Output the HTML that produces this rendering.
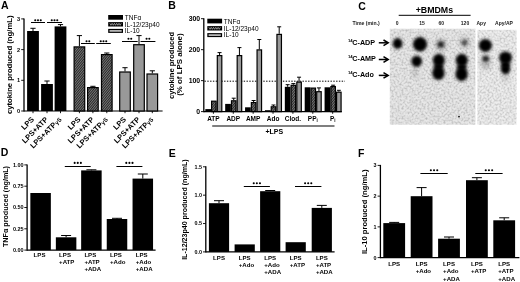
<!DOCTYPE html>
<html><head><meta charset="utf-8"><style>
html,body{margin:0;padding:0;background:#fff;width:520px;height:282px;overflow:hidden}
svg{display:block;font-family:"Liberation Sans", sans-serif;filter:grayscale(1)}
</style></head><body>
<svg width="520" height="282" viewBox="0 0 520 282">
<defs>
<pattern id="hatch" patternUnits="userSpaceOnUse" width="1.8" height="4" patternTransform="rotate(40)">
<rect width="1.8" height="4" fill="#262626"/>
<rect x="0" y="0" width="0.6" height="4" fill="#a0a0a0"/>
</pattern>
<pattern id="zig" patternUnits="userSpaceOnUse" width="2.2" height="4">
<rect width="2.2" height="4" fill="#111"/>
<path d="M0,1.2 L1.1,2.6 L2.2,1.2" stroke="#ddd" stroke-width="0.5" fill="none"/>
</pattern>
<linearGradient id="gelg" x1="0" y1="0" x2="0" y2="1">
<stop offset="0" stop-color="#e3e3e3"/><stop offset="1" stop-color="#e6e6e6"/>
</linearGradient>
<filter id="bl" x="-50%" y="-50%" width="200%" height="200%"><feGaussianBlur stdDeviation="1.35"/></filter>
<filter id="nz" x="0" y="0" width="100%" height="100%" color-interpolation-filters="sRGB">
<feTurbulence type="fractalNoise" baseFrequency="0.5" numOctaves="2" seed="7" result="t"/>
<feColorMatrix in="t" type="matrix" values="0 0 0 0 0  0 0 0 0 0  0 0 0 0 0  0.45 0 0 0 -0.18"/>
<feComposite in2="SourceGraphic" operator="in"/>
</filter>
<filter id="bl2" x="-80%" y="-80%" width="260%" height="260%"><feGaussianBlur stdDeviation="2"/></filter>
</defs>
<rect width="520" height="282" fill="#fff"/>
<text x="1" y="8.9" font-size="10.5" font-weight="bold" text-anchor="start" fill="#000" >A</text>
<text x="12.2" y="64.8" font-size="7.4" font-weight="bold" text-anchor="middle" fill="#000" transform="rotate(-90 12.2 64.8)" textLength="98.5" lengthAdjust="spacingAndGlyphs" >cytokine produced (ng/mL)</text>
<line x1="24.0" y1="18.4" x2="24.0" y2="111.6" stroke="#000" stroke-width="1.3" />
<line x1="21.2" y1="111.0" x2="24.0" y2="111.0" stroke="#000" stroke-width="0.9" />
<text x="20.0" y="113.016" font-size="5.6" font-weight="bold" text-anchor="end" fill="#000" >0</text>
<line x1="21.2" y1="80.3" x2="24.0" y2="80.3" stroke="#000" stroke-width="0.9" />
<text x="20.0" y="82.316" font-size="5.6" font-weight="bold" text-anchor="end" fill="#000" >1</text>
<line x1="21.2" y1="49.6" x2="24.0" y2="49.6" stroke="#000" stroke-width="0.9" />
<text x="20.0" y="51.616" font-size="5.6" font-weight="bold" text-anchor="end" fill="#000" >2</text>
<line x1="21.2" y1="18.900000000000006" x2="24.0" y2="18.900000000000006" stroke="#000" stroke-width="0.9" />
<text x="20.0" y="20.916000000000004" font-size="5.6" font-weight="bold" text-anchor="end" fill="#000" >3</text>
<line x1="24.0" y1="111.0" x2="162.6" y2="111.0" stroke="#000" stroke-width="1.2" />
<line x1="33.0" y1="31.0" x2="33.0" y2="28.3" stroke="#000" stroke-width="1.0" />
<line x1="30.4" y1="28.3" x2="35.6" y2="28.3" stroke="#000" stroke-width="1.0" />
<rect x="27.10" y="31.00" width="11.80" height="80.00" fill="#000"/>
<line x1="33.0" y1="111.0" x2="33.0" y2="113.2" stroke="#000" stroke-width="0.9" />
<line x1="47.0" y1="84.0" x2="47.0" y2="81.0" stroke="#000" stroke-width="1.0" />
<line x1="44.4" y1="81.0" x2="49.6" y2="81.0" stroke="#000" stroke-width="1.0" />
<rect x="41.10" y="84.00" width="11.80" height="27.00" fill="#000"/>
<line x1="47.0" y1="111.0" x2="47.0" y2="113.2" stroke="#000" stroke-width="0.9" />
<line x1="60.5" y1="26.4" x2="60.5" y2="24.6" stroke="#000" stroke-width="1.0" />
<line x1="57.9" y1="24.6" x2="63.1" y2="24.6" stroke="#000" stroke-width="1.0" />
<rect x="54.60" y="26.40" width="11.80" height="84.60" fill="#000"/>
<line x1="60.5" y1="111.0" x2="60.5" y2="113.2" stroke="#000" stroke-width="0.9" />
<line x1="79.4" y1="46.3" x2="79.4" y2="35.6" stroke="#000" stroke-width="1.0" />
<line x1="76.80000000000001" y1="35.6" x2="82.0" y2="35.6" stroke="#000" stroke-width="1.0" />
<rect x="74.10" y="46.90" width="10.60" height="64.10" fill="url(#hatch)" stroke="#000" stroke-width="1.2"/>
<line x1="79.4" y1="111.0" x2="79.4" y2="113.2" stroke="#000" stroke-width="0.9" />
<line x1="92.9" y1="87.0" x2="92.9" y2="86.3" stroke="#000" stroke-width="1.0" />
<line x1="90.30000000000001" y1="86.3" x2="95.5" y2="86.3" stroke="#000" stroke-width="1.0" />
<rect x="87.60" y="87.60" width="10.60" height="23.40" fill="url(#hatch)" stroke="#000" stroke-width="1.2"/>
<line x1="92.9" y1="111.0" x2="92.9" y2="113.2" stroke="#000" stroke-width="0.9" />
<line x1="106.8" y1="54.0" x2="106.8" y2="53.0" stroke="#000" stroke-width="1.0" />
<line x1="104.2" y1="53.0" x2="109.39999999999999" y2="53.0" stroke="#000" stroke-width="1.0" />
<rect x="101.50" y="54.60" width="10.60" height="56.40" fill="url(#hatch)" stroke="#000" stroke-width="1.2"/>
<line x1="106.8" y1="111.0" x2="106.8" y2="113.2" stroke="#000" stroke-width="0.9" />
<line x1="125.0" y1="71.4" x2="125.0" y2="67.7" stroke="#000" stroke-width="1.0" />
<line x1="122.4" y1="67.7" x2="127.6" y2="67.7" stroke="#000" stroke-width="1.0" />
<rect x="119.70" y="72.00" width="10.60" height="39.00" fill="#999" stroke="#000" stroke-width="1.2"/>
<line x1="125.0" y1="111.0" x2="125.0" y2="113.2" stroke="#000" stroke-width="0.9" />
<line x1="139.0" y1="44.1" x2="139.0" y2="35.6" stroke="#000" stroke-width="1.0" />
<line x1="136.4" y1="35.6" x2="141.6" y2="35.6" stroke="#000" stroke-width="1.0" />
<rect x="133.70" y="44.70" width="10.60" height="66.30" fill="#999" stroke="#000" stroke-width="1.2"/>
<line x1="139.0" y1="111.0" x2="139.0" y2="113.2" stroke="#000" stroke-width="0.9" />
<line x1="152.3" y1="73.4" x2="152.3" y2="70.8" stroke="#000" stroke-width="1.0" />
<line x1="149.70000000000002" y1="70.8" x2="154.9" y2="70.8" stroke="#000" stroke-width="1.0" />
<rect x="147.00" y="74.00" width="10.60" height="37.00" fill="#999" stroke="#000" stroke-width="1.2"/>
<line x1="152.3" y1="111.0" x2="152.3" y2="113.2" stroke="#000" stroke-width="0.9" />
<text x="34.6" y="120.0" font-size="7.5" font-weight="bold" text-anchor="end" fill="#000" transform="rotate(-45 34.6 120.0)" >LPS</text>
<text x="48.6" y="120.0" font-size="7.5" font-weight="bold" text-anchor="end" fill="#000" transform="rotate(-45 48.6 120.0)" >LPS+ATP</text>
<text x="62.1" y="120.0" font-size="7.5" font-weight="bold" text-anchor="end" fill="#000" transform="rotate(-45 62.1 120.0)" >LPS+ATP<tspan font-size="6">γS</tspan></text>
<text x="81.0" y="120.0" font-size="7.5" font-weight="bold" text-anchor="end" fill="#000" transform="rotate(-45 81.0 120.0)" >LPS</text>
<text x="94.5" y="120.0" font-size="7.5" font-weight="bold" text-anchor="end" fill="#000" transform="rotate(-45 94.5 120.0)" >LPS+ATP</text>
<text x="108.39999999999999" y="120.0" font-size="7.5" font-weight="bold" text-anchor="end" fill="#000" transform="rotate(-45 108.39999999999999 120.0)" >LPS+ATP<tspan font-size="6">γS</tspan></text>
<text x="126.6" y="120.0" font-size="7.5" font-weight="bold" text-anchor="end" fill="#000" transform="rotate(-45 126.6 120.0)" >LPS</text>
<text x="140.6" y="120.0" font-size="7.5" font-weight="bold" text-anchor="end" fill="#000" transform="rotate(-45 140.6 120.0)" >LPS+ATP</text>
<text x="153.9" y="120.0" font-size="7.5" font-weight="bold" text-anchor="end" fill="#000" transform="rotate(-45 153.9 120.0)" >LPS+ATP<tspan font-size="6">γS</tspan></text>
<line x1="31" y1="22.5" x2="45" y2="22.5" stroke="#000" stroke-width="1.05" />
<circle cx="35.25" cy="20.20" r="1.05" fill="#000"/>
<circle cx="38.00" cy="20.20" r="1.05" fill="#000"/>
<circle cx="40.75" cy="20.20" r="1.05" fill="#000"/>
<line x1="47" y1="22.5" x2="62" y2="22.5" stroke="#000" stroke-width="1.05" />
<circle cx="51.75" cy="20.20" r="1.05" fill="#000"/>
<circle cx="54.50" cy="20.20" r="1.05" fill="#000"/>
<circle cx="57.25" cy="20.20" r="1.05" fill="#000"/>
<line x1="81" y1="43.5" x2="94.8" y2="43.5" stroke="#000" stroke-width="1.05" />
<circle cx="86.53" cy="41.20" r="1.05" fill="#000"/>
<circle cx="89.28" cy="41.20" r="1.05" fill="#000"/>
<line x1="96.2" y1="43.5" x2="110.8" y2="43.5" stroke="#000" stroke-width="1.05" />
<circle cx="100.75" cy="41.20" r="1.05" fill="#000"/>
<circle cx="103.50" cy="41.20" r="1.05" fill="#000"/>
<circle cx="106.25" cy="41.20" r="1.05" fill="#000"/>
<line x1="122" y1="41.5" x2="137.7" y2="41.5" stroke="#000" stroke-width="1.05" />
<circle cx="128.47" cy="38.80" r="1.05" fill="#000"/>
<circle cx="131.22" cy="38.80" r="1.05" fill="#000"/>
<line x1="140.5" y1="41.5" x2="155.4" y2="41.5" stroke="#000" stroke-width="1.05" />
<circle cx="146.57" cy="38.80" r="1.05" fill="#000"/>
<circle cx="149.32" cy="38.80" r="1.05" fill="#000"/>
<rect x="108.20" y="15.00" width="14.80" height="4.70" fill="#000"/>
<rect x="108.20" y="22.10" width="14.80" height="4.40" fill="#000"/>
<polyline points="109.80,23.30 110.95,25.30 112.10,23.30 113.25,25.30 114.40,23.30 115.55,25.30 116.70,23.30 117.85,25.30 119.00,23.30 120.15,25.30 121.30,23.30" fill="none" stroke="#e0e0e0" stroke-width="0.6"/>
<rect x="108.20" y="28.90" width="14.80" height="4.00" fill="#000"/>
<rect x="109.50" y="30.00" width="12.20" height="1.80" fill="#b4b4b4"/>
<text x="124.8" y="19.9" font-size="6.5" font-weight="normal" text-anchor="start" fill="#000" >TNFα</text>
<text x="124.8" y="26.7" font-size="6.5" font-weight="normal" text-anchor="start" fill="#000" >IL-12/23p40</text>
<text x="124.8" y="33.1" font-size="6.5" font-weight="normal" text-anchor="start" fill="#000" >IL-10</text>
<rect x="207.30" y="18.70" width="14.80" height="4.70" fill="#000"/>
<rect x="207.30" y="26.10" width="14.80" height="4.40" fill="#000"/>
<polyline points="208.90,27.30 210.05,29.30 211.20,27.30 212.35,29.30 213.50,27.30 214.65,29.30 215.80,27.30 216.95,29.30 218.10,27.30 219.25,29.30 220.40,27.30" fill="none" stroke="#e0e0e0" stroke-width="0.6"/>
<rect x="207.30" y="33.10" width="14.80" height="4.00" fill="#000"/>
<rect x="208.60" y="34.20" width="12.20" height="1.80" fill="#b4b4b4"/>
<text x="223.8" y="23.599999999999998" font-size="6.5" font-weight="normal" text-anchor="start" fill="#000" >TNFα</text>
<text x="223.8" y="30.7" font-size="6.5" font-weight="normal" text-anchor="start" fill="#000" >IL-12/23p40</text>
<text x="223.8" y="37.300000000000004" font-size="6.5" font-weight="normal" text-anchor="start" fill="#000" >IL-10</text>
<text x="168.2" y="9.0" font-size="10.5" font-weight="bold" text-anchor="start" fill="#000" >B</text>
<text x="174.3" y="65.5" font-size="7.6" font-weight="bold" text-anchor="middle" fill="#000" transform="rotate(-90 174.3 65.5)" textLength="67" lengthAdjust="spacingAndGlyphs" >cytokine produced</text>
<text x="182.2" y="64.6" font-size="7.6" font-weight="bold" text-anchor="middle" fill="#000" transform="rotate(-90 182.2 64.6)" textLength="62.5" lengthAdjust="spacingAndGlyphs" >(% of LPS alone)</text>
<line x1="203.8" y1="18.2" x2="203.8" y2="112.19999999999999" stroke="#000" stroke-width="1.3" />
<line x1="201.0" y1="111.6" x2="203.8" y2="111.6" stroke="#000" stroke-width="0.9" />
<text x="200.2" y="114.08399999999999" font-size="6.9" font-weight="bold" text-anchor="end" fill="#000" >0</text>
<line x1="201.0" y1="80.63333333333333" x2="203.8" y2="80.63333333333333" stroke="#000" stroke-width="0.9" />
<text x="200.2" y="83.11733333333332" font-size="6.9" font-weight="bold" text-anchor="end" fill="#000" >100</text>
<line x1="201.0" y1="49.666666666666664" x2="203.8" y2="49.666666666666664" stroke="#000" stroke-width="0.9" />
<text x="200.2" y="52.150666666666666" font-size="6.9" font-weight="bold" text-anchor="end" fill="#000" >200</text>
<line x1="201.0" y1="18.700000000000003" x2="203.8" y2="18.700000000000003" stroke="#000" stroke-width="0.9" />
<text x="200.2" y="21.184000000000005" font-size="6.9" font-weight="bold" text-anchor="end" fill="#000" >300</text>
<line x1="203.8" y1="111.6" x2="341.8" y2="111.6" stroke="#000" stroke-width="1.2" />
<line x1="204.5" y1="81.2" x2="345" y2="81.2" stroke="#000" stroke-width="1.0" stroke-dasharray="1.4 1.4"/>
<rect x="205.30" y="109.10" width="5.70" height="2.50" fill="#000"/>
<rect x="211.60" y="101.20" width="4.50" height="10.40" fill="url(#hatch)" stroke="#000" stroke-width="1.2"/>
<line x1="219.54999999999998" y1="55.0" x2="219.54999999999998" y2="52.6" stroke="#000" stroke-width="1.0" />
<line x1="217.54999999999998" y1="52.6" x2="221.54999999999998" y2="52.6" stroke="#000" stroke-width="1.0" />
<rect x="217.30" y="55.60" width="4.50" height="56.00" fill="#999" stroke="#000" stroke-width="1.2"/>
<line x1="213.4" y1="111.6" x2="213.4" y2="113.8" stroke="#000" stroke-width="0.9" />
<rect x="225.18" y="103.90" width="5.70" height="7.70" fill="#000"/>
<line x1="233.73" y1="100.2" x2="233.73" y2="98.2" stroke="#000" stroke-width="1.0" />
<line x1="231.73" y1="98.2" x2="235.73" y2="98.2" stroke="#000" stroke-width="1.0" />
<rect x="231.48" y="100.80" width="4.50" height="10.80" fill="url(#hatch)" stroke="#000" stroke-width="1.2"/>
<line x1="239.42999999999998" y1="55.0" x2="239.42999999999998" y2="47.6" stroke="#000" stroke-width="1.0" />
<line x1="237.42999999999998" y1="47.6" x2="241.42999999999998" y2="47.6" stroke="#000" stroke-width="1.0" />
<rect x="237.18" y="55.60" width="4.50" height="56.00" fill="#999" stroke="#000" stroke-width="1.2"/>
<line x1="233.28" y1="111.6" x2="233.28" y2="113.8" stroke="#000" stroke-width="0.9" />
<rect x="245.06" y="107.30" width="5.70" height="4.30" fill="#000"/>
<line x1="253.60999999999999" y1="102.0" x2="253.60999999999999" y2="100.5" stroke="#000" stroke-width="1.0" />
<line x1="251.60999999999999" y1="100.5" x2="255.60999999999999" y2="100.5" stroke="#000" stroke-width="1.0" />
<rect x="251.36" y="102.60" width="4.50" height="9.00" fill="url(#hatch)" stroke="#000" stroke-width="1.2"/>
<line x1="259.31" y1="49.3" x2="259.31" y2="39.5" stroke="#000" stroke-width="1.0" />
<line x1="257.31" y1="39.5" x2="261.31" y2="39.5" stroke="#000" stroke-width="1.0" />
<rect x="257.06" y="49.90" width="4.50" height="61.70" fill="#999" stroke="#000" stroke-width="1.2"/>
<line x1="253.16" y1="111.6" x2="253.16" y2="113.8" stroke="#000" stroke-width="0.9" />
<rect x="264.94" y="110.20" width="5.70" height="1.40" fill="#000"/>
<line x1="273.49" y1="106.2" x2="273.49" y2="105.0" stroke="#000" stroke-width="1.0" />
<line x1="271.49" y1="105.0" x2="275.49" y2="105.0" stroke="#000" stroke-width="1.0" />
<rect x="271.24" y="106.80" width="4.50" height="4.80" fill="url(#hatch)" stroke="#000" stroke-width="1.2"/>
<line x1="279.19" y1="33.8" x2="279.19" y2="26.8" stroke="#000" stroke-width="1.0" />
<line x1="277.19" y1="26.8" x2="281.19" y2="26.8" stroke="#000" stroke-width="1.0" />
<rect x="276.94" y="34.40" width="4.50" height="77.20" fill="#999" stroke="#000" stroke-width="1.2"/>
<line x1="273.04" y1="111.6" x2="273.04" y2="113.8" stroke="#000" stroke-width="0.9" />
<line x1="287.67" y1="86.8" x2="287.67" y2="84.7" stroke="#000" stroke-width="1.0" />
<line x1="285.67" y1="84.7" x2="289.67" y2="84.7" stroke="#000" stroke-width="1.0" />
<rect x="284.82" y="86.80" width="5.70" height="24.80" fill="#000"/>
<line x1="293.37" y1="84.7" x2="293.37" y2="83.6" stroke="#000" stroke-width="1.0" />
<line x1="291.37" y1="83.6" x2="295.37" y2="83.6" stroke="#000" stroke-width="1.0" />
<rect x="291.12" y="85.30" width="4.50" height="26.30" fill="url(#hatch)" stroke="#000" stroke-width="1.2"/>
<line x1="299.07" y1="81.5" x2="299.07" y2="77.2" stroke="#000" stroke-width="1.0" />
<line x1="297.07" y1="77.2" x2="301.07" y2="77.2" stroke="#000" stroke-width="1.0" />
<rect x="296.82" y="82.10" width="4.50" height="29.50" fill="#999" stroke="#000" stroke-width="1.2"/>
<line x1="292.92" y1="111.6" x2="292.92" y2="113.8" stroke="#000" stroke-width="0.9" />
<rect x="304.70" y="87.30" width="5.70" height="24.30" fill="#000"/>
<rect x="311.00" y="88.10" width="4.50" height="23.50" fill="url(#hatch)" stroke="#000" stroke-width="1.2"/>
<line x1="318.95" y1="91.1" x2="318.95" y2="87.9" stroke="#000" stroke-width="1.0" />
<line x1="316.95" y1="87.9" x2="320.95" y2="87.9" stroke="#000" stroke-width="1.0" />
<rect x="316.70" y="91.70" width="4.50" height="19.90" fill="#999" stroke="#000" stroke-width="1.2"/>
<line x1="312.8" y1="111.6" x2="312.8" y2="113.8" stroke="#000" stroke-width="0.9" />
<rect x="324.58" y="87.30" width="5.70" height="24.30" fill="#000"/>
<line x1="333.13" y1="86.0" x2="333.13" y2="85.2" stroke="#000" stroke-width="1.0" />
<line x1="331.13" y1="85.2" x2="335.13" y2="85.2" stroke="#000" stroke-width="1.0" />
<rect x="330.88" y="86.60" width="4.50" height="25.00" fill="url(#hatch)" stroke="#000" stroke-width="1.2"/>
<line x1="338.83" y1="91.6" x2="338.83" y2="90.3" stroke="#000" stroke-width="1.0" />
<line x1="336.83" y1="90.3" x2="340.83" y2="90.3" stroke="#000" stroke-width="1.0" />
<rect x="336.58" y="92.20" width="4.50" height="19.40" fill="#999" stroke="#000" stroke-width="1.2"/>
<line x1="332.68" y1="111.6" x2="332.68" y2="113.8" stroke="#000" stroke-width="0.9" />
<text x="213.4" y="121.2" font-size="6.5" font-weight="bold" text-anchor="middle" fill="#000" >ATP</text>
<text x="233.28" y="121.2" font-size="6.5" font-weight="bold" text-anchor="middle" fill="#000" >ADP</text>
<text x="253.16" y="121.2" font-size="6.5" font-weight="bold" text-anchor="middle" fill="#000" >AMP</text>
<text x="273.04" y="121.2" font-size="6.5" font-weight="bold" text-anchor="middle" fill="#000" >Ado</text>
<text x="292.92" y="121.2" font-size="6.5" font-weight="bold" text-anchor="middle" fill="#000" >Clod.</text>
<text x="312.8" y="121.2" font-size="6.5" font-weight="bold" text-anchor="middle" fill="#000" >PP<tspan font-size="4.5" dy="1.2">i</tspan></text>
<text x="332.68" y="121.2" font-size="6.5" font-weight="bold" text-anchor="middle" fill="#000" >P<tspan font-size="4.5" dy="1.2">i</tspan></text>
<line x1="212.2" y1="126.0" x2="334.5" y2="126.0" stroke="#000" stroke-width="1.1" />
<text x="274.3" y="134.4" font-size="7.0" font-weight="bold" text-anchor="middle" fill="#000" >+LPS</text>
<text x="358.2" y="9.6" font-size="10.5" font-weight="bold" text-anchor="start" fill="#000" >C</text>
<text x="434.4" y="12.9" font-size="8.8" font-weight="bold" text-anchor="middle" fill="#000" >+BMDMs</text>
<line x1="398.7" y1="15.3" x2="470.6" y2="15.3" stroke="#000" stroke-width="1.0" />
<text x="352.5" y="25.4" font-size="5.2" font-weight="bold" text-anchor="start" fill="#1a1a1a" textLength="27.3" lengthAdjust="spacingAndGlyphs" >Time (min.)</text>
<text x="397.1" y="24.8" font-size="5.0" font-weight="bold" text-anchor="middle" fill="#1a1a1a" >0</text>
<text x="422" y="24.8" font-size="5.0" font-weight="bold" text-anchor="middle" fill="#1a1a1a" >15</text>
<text x="441.3" y="24.8" font-size="5.0" font-weight="bold" text-anchor="middle" fill="#1a1a1a" >60</text>
<text x="465" y="24.8" font-size="5.0" font-weight="bold" text-anchor="middle" fill="#1a1a1a" >120</text>
<text x="481.2" y="24.8" font-size="5.0" font-weight="bold" text-anchor="middle" fill="#1a1a1a" >Apy</text>
<text x="504" y="24.8" font-size="5.0" font-weight="bold" text-anchor="middle" fill="#1a1a1a" >Apy/AP</text>
<rect x="389.80" y="28.70" width="85.60" height="96.00" fill="#e7e7e7"/>
<rect x="477.40" y="29.80" width="39.20" height="94.90" fill="#ededed"/>
<rect x="389.8" y="28.7" width="85.6" height="96" fill="#000" filter="url(#nz)"/>
<rect x="477.4" y="29.8" width="39.2" height="94.9" fill="#000" filter="url(#nz)"/>
<text x="347.9" y="41.8" font-size="4.2" font-weight="bold" text-anchor="start" fill="#000" >14</text>
<text x="352.3" y="44.8" font-size="7.2" font-weight="bold" text-anchor="start" fill="#000" >C-ADP</text>
<line x1="378.8" y1="42.8" x2="387.4" y2="42.8" stroke="#000" stroke-width="1.5" />
<path d="M383.5 40.0 L388.2 42.8 L383.5 45.599999999999994" fill="none" stroke="#000" stroke-width="1.5" stroke-linejoin="miter"/>
<text x="347.9" y="58.2" font-size="4.2" font-weight="bold" text-anchor="start" fill="#000" >14</text>
<text x="352.3" y="61.2" font-size="7.2" font-weight="bold" text-anchor="start" fill="#000" >C-AMP</text>
<line x1="378.8" y1="59.5" x2="387.4" y2="59.5" stroke="#000" stroke-width="1.5" />
<path d="M383.5 56.7 L388.2 59.5 L383.5 62.3" fill="none" stroke="#000" stroke-width="1.5" stroke-linejoin="miter"/>
<text x="347.9" y="73.9" font-size="4.2" font-weight="bold" text-anchor="start" fill="#000" >14</text>
<text x="352.3" y="76.9" font-size="7.2" font-weight="bold" text-anchor="start" fill="#000" >C-Ado</text>
<line x1="378.8" y1="75.4" x2="387.4" y2="75.4" stroke="#000" stroke-width="1.5" />
<path d="M383.5 72.60000000000001 L388.2 75.4 L383.5 78.2" fill="none" stroke="#000" stroke-width="1.5" stroke-linejoin="miter"/>
<ellipse cx="397.6" cy="43.4" rx="4.8" ry="5.3" fill="#000" opacity="1.0" filter="url(#bl)"/>
<ellipse cx="420.0" cy="44.3" rx="7.0" ry="7.2" fill="#000" opacity="1.0" filter="url(#bl)"/>
<ellipse cx="416.7" cy="61.3" rx="5.3" ry="5.6" fill="#000" opacity="1.0" filter="url(#bl)"/>
<ellipse cx="415" cy="73" rx="2.5" ry="6" fill="#000" opacity="0.15" filter="url(#bl2)"/>
<ellipse cx="440.8" cy="44.5" rx="2.8" ry="2.8" fill="#000" opacity="0.85" filter="url(#bl)"/>
<circle cx="440.8" cy="44.5" r="5.2" fill="#000" opacity="0.35" filter="url(#bl2)"/>
<ellipse cx="438.8" cy="60.2" rx="6.0" ry="6.4" fill="#000" opacity="1.0" filter="url(#bl)"/>
<ellipse cx="438.4" cy="73.0" rx="6.2" ry="7.0" fill="#000" opacity="1.0" filter="url(#bl)"/>
<ellipse cx="438.6" cy="66.6" rx="4.6" ry="3.0" fill="#000" opacity="1.0" filter="url(#bl)"/>
<ellipse cx="464.6" cy="42.6" rx="2.3" ry="2.3" fill="#000" opacity="0.7" filter="url(#bl)"/>
<circle cx="464.6" cy="42.6" r="4.8" fill="#000" opacity="0.28" filter="url(#bl2)"/>
<ellipse cx="461.8" cy="60.2" rx="6.0" ry="6.4" fill="#000" opacity="1.0" filter="url(#bl)"/>
<ellipse cx="461.6" cy="74.0" rx="6.2" ry="7.2" fill="#000" opacity="1.0" filter="url(#bl)"/>
<ellipse cx="461.7" cy="67.0" rx="4.8" ry="3.0" fill="#000" opacity="1.0" filter="url(#bl)"/>
<ellipse cx="485.4" cy="45.4" rx="6.5" ry="6.5" fill="#000" opacity="1.0" filter="url(#bl)"/>
<ellipse cx="485.7" cy="58.7" rx="3.4" ry="3.0" fill="#000" opacity="0.8" filter="url(#bl)"/>
<ellipse cx="485.7" cy="62" rx="5" ry="8" fill="#000" opacity="0.2" filter="url(#bl2)"/>
<ellipse cx="505.5" cy="57.8" rx="6.5" ry="6.3" fill="#000" opacity="1.0" filter="url(#bl)"/>
<ellipse cx="505.5" cy="65.0" rx="4.6" ry="4.0" fill="#000" opacity="1.0" filter="url(#bl)"/>
<ellipse cx="505.5" cy="69.6" rx="4.6" ry="4.6" fill="#000" opacity="1.0" filter="url(#bl)"/>
<ellipse cx="505.5" cy="76" rx="3" ry="6" fill="#000" opacity="0.15" filter="url(#bl2)"/>
<circle cx="459" cy="116.6" r="0.9" fill="#111"/>
<text x="0.7" y="156.0" font-size="10.5" font-weight="bold" text-anchor="start" fill="#000" >D</text>
<text x="7.5" y="206.5" font-size="6.6" font-weight="bold" text-anchor="middle" fill="#000" transform="rotate(-90 7.5 206.5)" textLength="81" lengthAdjust="spacingAndGlyphs" >TNFα produced (ng/mL)</text>
<line x1="27.1" y1="164.4" x2="27.1" y2="250.7" stroke="#000" stroke-width="1.3" />
<line x1="24.3" y1="250.1" x2="27.1" y2="250.1" stroke="#000" stroke-width="0.9" />
<text x="23.6" y="252.07999999999998" font-size="5.5" font-weight="bold" text-anchor="end" fill="#000" >0.00</text>
<line x1="24.3" y1="228.8" x2="27.1" y2="228.8" stroke="#000" stroke-width="0.9" />
<text x="23.6" y="230.78" font-size="5.5" font-weight="bold" text-anchor="end" fill="#000" >0.25</text>
<line x1="24.3" y1="207.5" x2="27.1" y2="207.5" stroke="#000" stroke-width="0.9" />
<text x="23.6" y="209.48" font-size="5.5" font-weight="bold" text-anchor="end" fill="#000" >0.50</text>
<line x1="24.3" y1="186.2" x2="27.1" y2="186.2" stroke="#000" stroke-width="0.9" />
<text x="23.6" y="188.17999999999998" font-size="5.5" font-weight="bold" text-anchor="end" fill="#000" >0.75</text>
<line x1="24.3" y1="164.9" x2="27.1" y2="164.9" stroke="#000" stroke-width="0.9" />
<text x="23.6" y="166.88" font-size="5.5" font-weight="bold" text-anchor="end" fill="#000" >1.00</text>
<line x1="27.1" y1="250.1" x2="155.6" y2="250.1" stroke="#000" stroke-width="1.2" />
<rect x="30.35" y="193.00" width="20.50" height="57.10" fill="#000"/>
<line x1="66.1" y1="237.3" x2="66.1" y2="235.5" stroke="#000" stroke-width="1.0" />
<line x1="61.099999999999994" y1="235.5" x2="71.1" y2="235.5" stroke="#000" stroke-width="1.0" />
<rect x="55.85" y="237.30" width="20.50" height="12.80" fill="#000"/>
<line x1="91.4" y1="170.4" x2="91.4" y2="169.8" stroke="#000" stroke-width="1.0" />
<line x1="86.4" y1="169.8" x2="96.4" y2="169.8" stroke="#000" stroke-width="1.0" />
<rect x="81.15" y="170.40" width="20.50" height="79.70" fill="#000"/>
<line x1="117.0" y1="219.0" x2="117.0" y2="218.3" stroke="#000" stroke-width="1.0" />
<line x1="112.0" y1="218.3" x2="122.0" y2="218.3" stroke="#000" stroke-width="1.0" />
<rect x="106.75" y="219.00" width="20.50" height="31.10" fill="#000"/>
<line x1="142.8" y1="178.6" x2="142.8" y2="174.0" stroke="#000" stroke-width="1.0" />
<line x1="137.8" y1="174.0" x2="147.8" y2="174.0" stroke="#000" stroke-width="1.0" />
<rect x="132.55" y="178.60" width="20.50" height="71.50" fill="#000"/>
<line x1="64.8" y1="166.5" x2="90.7" y2="166.5" stroke="#000" stroke-width="1.05" />
<circle cx="74.65" cy="162.90" r="1.05" fill="#000"/>
<circle cx="77.75" cy="162.90" r="1.05" fill="#000"/>
<circle cx="80.85" cy="162.90" r="1.05" fill="#000"/>
<line x1="116.4" y1="166.5" x2="142.4" y2="166.5" stroke="#000" stroke-width="1.05" />
<circle cx="126.30" cy="162.90" r="1.05" fill="#000"/>
<circle cx="129.40" cy="162.90" r="1.05" fill="#000"/>
<circle cx="132.50" cy="162.90" r="1.05" fill="#000"/>
<text x="33.6" y="257.0" font-size="6.1" font-weight="bold" text-anchor="start" fill="#000" >LPS</text>
<text x="59.099999999999994" y="257.0" font-size="6.1" font-weight="bold" text-anchor="start" fill="#000" >LPS</text>
<text x="59.099999999999994" y="264.0" font-size="6.1" font-weight="bold" text-anchor="start" fill="#000" >+ATP</text>
<text x="84.4" y="257.0" font-size="6.1" font-weight="bold" text-anchor="start" fill="#000" >LPS</text>
<text x="84.4" y="264.0" font-size="6.1" font-weight="bold" text-anchor="start" fill="#000" >+ATP</text>
<text x="84.4" y="271.0" font-size="6.1" font-weight="bold" text-anchor="start" fill="#000" >+ADA</text>
<text x="110.0" y="257.0" font-size="6.1" font-weight="bold" text-anchor="start" fill="#000" >LPS</text>
<text x="110.0" y="264.0" font-size="6.1" font-weight="bold" text-anchor="start" fill="#000" >+Ado</text>
<text x="135.8" y="257.0" font-size="6.1" font-weight="bold" text-anchor="start" fill="#000" >LPS</text>
<text x="135.8" y="264.0" font-size="6.1" font-weight="bold" text-anchor="start" fill="#000" >+Ado</text>
<text x="135.8" y="271.0" font-size="6.1" font-weight="bold" text-anchor="start" fill="#000" >+ADA</text>
<text x="168.7" y="156.6" font-size="10.5" font-weight="bold" text-anchor="start" fill="#000" >E</text>
<text x="186.9" y="209.6" font-size="7" font-weight="bold" text-anchor="middle" fill="#000" transform="rotate(-90 186.9 209.6)" textLength="100.5" lengthAdjust="spacingAndGlyphs" >IL-12/23p40 produced (ng/mL)</text>
<line x1="205.8" y1="166.3" x2="205.8" y2="252.5" stroke="#000" stroke-width="1.3" />
<line x1="203.0" y1="251.9" x2="205.8" y2="251.9" stroke="#000" stroke-width="0.9" />
<text x="202.0" y="253.844" font-size="5.4" font-weight="bold" text-anchor="end" fill="#000" >0.0</text>
<line x1="203.0" y1="223.53333333333333" x2="205.8" y2="223.53333333333333" stroke="#000" stroke-width="0.9" />
<text x="202.0" y="225.47733333333332" font-size="5.4" font-weight="bold" text-anchor="end" fill="#000" >0.5</text>
<line x1="203.0" y1="195.16666666666669" x2="205.8" y2="195.16666666666669" stroke="#000" stroke-width="0.9" />
<text x="202.0" y="197.11066666666667" font-size="5.4" font-weight="bold" text-anchor="end" fill="#000" >1.0</text>
<line x1="203.0" y1="166.8" x2="205.8" y2="166.8" stroke="#000" stroke-width="0.9" />
<text x="202.0" y="168.744" font-size="5.4" font-weight="bold" text-anchor="end" fill="#000" >1.5</text>
<line x1="205.8" y1="251.9" x2="334.6" y2="251.9" stroke="#000" stroke-width="1.2" />
<line x1="219.0" y1="203.2" x2="219.0" y2="200.7" stroke="#000" stroke-width="1.0" />
<line x1="214.0" y1="200.7" x2="224.0" y2="200.7" stroke="#000" stroke-width="1.0" />
<rect x="208.90" y="203.20" width="20.20" height="48.70" fill="#000"/>
<rect x="234.60" y="244.40" width="20.20" height="7.50" fill="#000"/>
<line x1="270.2" y1="191.2" x2="270.2" y2="190.5" stroke="#000" stroke-width="1.0" />
<line x1="265.2" y1="190.5" x2="275.2" y2="190.5" stroke="#000" stroke-width="1.0" />
<rect x="260.10" y="191.20" width="20.20" height="60.70" fill="#000"/>
<rect x="285.60" y="242.20" width="20.20" height="9.70" fill="#000"/>
<line x1="321.8" y1="207.9" x2="321.8" y2="205.4" stroke="#000" stroke-width="1.0" />
<line x1="316.8" y1="205.4" x2="326.8" y2="205.4" stroke="#000" stroke-width="1.0" />
<rect x="311.70" y="207.90" width="20.20" height="44.00" fill="#000"/>
<line x1="243.8" y1="186.5" x2="269.9" y2="186.5" stroke="#000" stroke-width="1.05" />
<circle cx="253.75" cy="183.30" r="1.05" fill="#000"/>
<circle cx="256.85" cy="183.30" r="1.05" fill="#000"/>
<circle cx="259.95" cy="183.30" r="1.05" fill="#000"/>
<line x1="295" y1="186.5" x2="321.4" y2="186.5" stroke="#000" stroke-width="1.05" />
<circle cx="305.10" cy="183.30" r="1.05" fill="#000"/>
<circle cx="308.20" cy="183.30" r="1.05" fill="#000"/>
<circle cx="311.30" cy="183.30" r="1.05" fill="#000"/>
<text x="213.1" y="259.7" font-size="6.1" font-weight="bold" text-anchor="start" fill="#000" >LPS</text>
<text x="238.79999999999998" y="259.7" font-size="6.1" font-weight="bold" text-anchor="start" fill="#000" >LPS</text>
<text x="238.79999999999998" y="266.59999999999997" font-size="6.1" font-weight="bold" text-anchor="start" fill="#000" >+Ado</text>
<text x="264.3" y="259.7" font-size="6.1" font-weight="bold" text-anchor="start" fill="#000" >LPS</text>
<text x="264.3" y="266.59999999999997" font-size="6.1" font-weight="bold" text-anchor="start" fill="#000" >+Ado</text>
<text x="264.3" y="273.5" font-size="6.1" font-weight="bold" text-anchor="start" fill="#000" >+ADA</text>
<text x="289.8" y="259.7" font-size="6.1" font-weight="bold" text-anchor="start" fill="#000" >LPS</text>
<text x="289.8" y="266.59999999999997" font-size="6.1" font-weight="bold" text-anchor="start" fill="#000" >+ATP</text>
<text x="315.90000000000003" y="259.7" font-size="6.1" font-weight="bold" text-anchor="start" fill="#000" >LPS</text>
<text x="315.90000000000003" y="266.59999999999997" font-size="6.1" font-weight="bold" text-anchor="start" fill="#000" >+ATP</text>
<text x="315.90000000000003" y="273.5" font-size="6.1" font-weight="bold" text-anchor="start" fill="#000" >+ADA</text>
<text x="357.9" y="156.6" font-size="10.5" font-weight="bold" text-anchor="start" fill="#000" >F</text>
<text x="367.4" y="211.8" font-size="7.4" font-weight="bold" text-anchor="middle" fill="#000" transform="rotate(-90 367.4 211.8)" textLength="84.5" lengthAdjust="spacingAndGlyphs" >IL-10 produced (ng/mL)</text>
<line x1="380.4" y1="164.9" x2="380.4" y2="258.20000000000005" stroke="#000" stroke-width="1.3" />
<line x1="377.59999999999997" y1="257.6" x2="380.4" y2="257.6" stroke="#000" stroke-width="0.9" />
<text x="376.6" y="259.54400000000004" font-size="5.4" font-weight="bold" text-anchor="end" fill="#000" >0</text>
<line x1="377.59999999999997" y1="226.86666666666667" x2="380.4" y2="226.86666666666667" stroke="#000" stroke-width="0.9" />
<text x="376.6" y="228.81066666666666" font-size="5.4" font-weight="bold" text-anchor="end" fill="#000" >1</text>
<line x1="377.59999999999997" y1="196.13333333333335" x2="380.4" y2="196.13333333333335" stroke="#000" stroke-width="0.9" />
<text x="376.6" y="198.07733333333334" font-size="5.4" font-weight="bold" text-anchor="end" fill="#000" >2</text>
<line x1="377.59999999999997" y1="165.4" x2="380.4" y2="165.4" stroke="#000" stroke-width="0.9" />
<text x="376.6" y="167.344" font-size="5.4" font-weight="bold" text-anchor="end" fill="#000" >3</text>
<line x1="380.4" y1="257.6" x2="519.4" y2="257.6" stroke="#000" stroke-width="1.2" />
<line x1="394.2" y1="223.1" x2="394.2" y2="222.4" stroke="#000" stroke-width="1.0" />
<line x1="389.2" y1="222.4" x2="399.2" y2="222.4" stroke="#000" stroke-width="1.0" />
<rect x="383.30" y="223.10" width="21.80" height="34.50" fill="#000"/>
<line x1="421.6" y1="196.2" x2="421.6" y2="187.6" stroke="#000" stroke-width="1.0" />
<line x1="416.6" y1="187.6" x2="426.6" y2="187.6" stroke="#000" stroke-width="1.0" />
<rect x="410.70" y="196.20" width="21.80" height="61.40" fill="#000"/>
<line x1="449.0" y1="238.7" x2="449.0" y2="237.0" stroke="#000" stroke-width="1.0" />
<line x1="444.0" y1="237.0" x2="454.0" y2="237.0" stroke="#000" stroke-width="1.0" />
<rect x="438.10" y="238.70" width="21.80" height="18.90" fill="#000"/>
<line x1="476.9" y1="180.2" x2="476.9" y2="177.7" stroke="#000" stroke-width="1.0" />
<line x1="471.9" y1="177.7" x2="481.9" y2="177.7" stroke="#000" stroke-width="1.0" />
<rect x="466.00" y="180.20" width="21.80" height="77.40" fill="#000"/>
<line x1="504.2" y1="220.3" x2="504.2" y2="217.8" stroke="#000" stroke-width="1.0" />
<line x1="499.2" y1="217.8" x2="509.2" y2="217.8" stroke="#000" stroke-width="1.0" />
<rect x="493.30" y="220.30" width="21.80" height="37.30" fill="#000"/>
<line x1="420.4" y1="173.5" x2="447.7" y2="173.5" stroke="#000" stroke-width="1.05" />
<circle cx="430.85" cy="170.20" r="1.05" fill="#000"/>
<circle cx="434.05" cy="170.20" r="1.05" fill="#000"/>
<circle cx="437.25" cy="170.20" r="1.05" fill="#000"/>
<line x1="475.3" y1="173.5" x2="502.6" y2="173.5" stroke="#000" stroke-width="1.05" />
<circle cx="485.75" cy="170.20" r="1.05" fill="#000"/>
<circle cx="488.95" cy="170.20" r="1.05" fill="#000"/>
<circle cx="492.15" cy="170.20" r="1.05" fill="#000"/>
<text x="388.3" y="266.1" font-size="6.1" font-weight="bold" text-anchor="start" fill="#000" >LPS</text>
<text x="415.70000000000005" y="266.1" font-size="6.1" font-weight="bold" text-anchor="start" fill="#000" >LPS</text>
<text x="415.70000000000005" y="273.3" font-size="6.1" font-weight="bold" text-anchor="start" fill="#000" >+Ado</text>
<text x="443.1" y="266.1" font-size="6.1" font-weight="bold" text-anchor="start" fill="#000" >LPS</text>
<text x="443.1" y="273.3" font-size="6.1" font-weight="bold" text-anchor="start" fill="#000" >+Ado</text>
<text x="443.1" y="280.5" font-size="6.1" font-weight="bold" text-anchor="start" fill="#000" >+ADA</text>
<text x="471.0" y="266.1" font-size="6.1" font-weight="bold" text-anchor="start" fill="#000" >LPS</text>
<text x="471.0" y="273.3" font-size="6.1" font-weight="bold" text-anchor="start" fill="#000" >+ATP</text>
<text x="498.3" y="266.1" font-size="6.1" font-weight="bold" text-anchor="start" fill="#000" >LPS</text>
<text x="498.3" y="273.3" font-size="6.1" font-weight="bold" text-anchor="start" fill="#000" >+ATP</text>
<text x="498.3" y="280.5" font-size="6.1" font-weight="bold" text-anchor="start" fill="#000" >+ADA</text>
</svg>
</body></html>
